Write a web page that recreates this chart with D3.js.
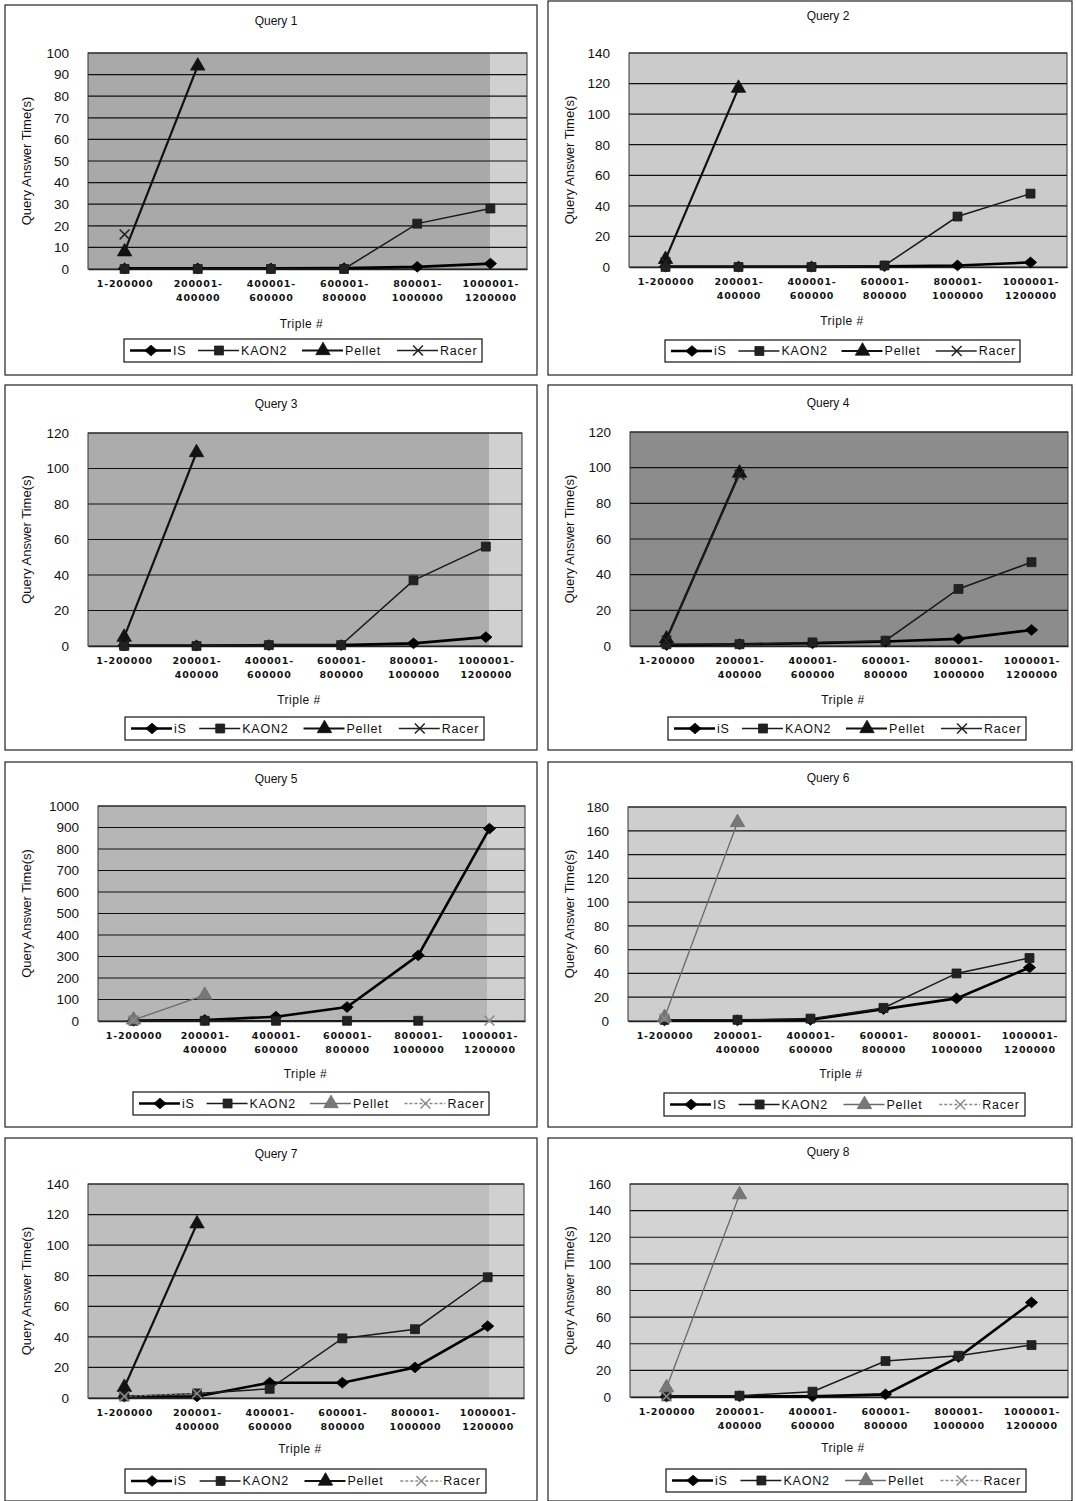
<!DOCTYPE html>
<html><head><meta charset="utf-8">
<script src="https://cdn.jsdelivr.net/npm/d3@7"></script>
<style>
body{margin:0;background:#fff}
svg{display:block}
text{font-family:"Liberation Sans",Arial,sans-serif;fill:#111}
</style>
</head><body>
<svg id="c" width="1076" height="1501"></svg>
<script>
// ---------- DATA ----------
const categories = ["1-200000","200001-400000","400001-600000","600001-800000","800001-1000000","1000001-1200000"];
const categoryLines = [["1-200000"],["200001-","400000"],["400001-","600000"],["600001-","800000"],["800001-","1000000"],["1000001-","1200000"]];
const queryTitles = ["Query 1","Query 2","Query 3","Query 4","Query 5","Query 6","Query 7","Query 8"];
const yMax  = [100,140,120,120,1000,180,140,160];
const yStep = [10,20,20,20,100,20,20,20];
const seriesNames = ["iS","KAON2","Pellet","Racer"];
const isLegendLabels = ["IS","iS","iS","iS","iS","IS","iS","iS"];
const yTitle = "Query Answer Time(s)";
const xTitle = "Triple #";

const iSValues = [
  [0.3,0.3,0.3,0.4,1,2.5],
  [0.3,0.3,0.3,0.5,1,3],
  [0.3,0.3,0.5,0.5,1.5,5],
  [0.5,1,1.5,2.5,4,9],
  [2,5,20,65,305,895],
  [0.5,0.5,1,10,19,45],
  [1,1,10,10,20,47],
  [0.5,0.5,0.5,2,30,71]
];
const kaon2Values = [
  [0,0,0,0,21,28],
  [0,0,0,1,33,48],
  [0,0,0.5,0.5,37,56],
  [1,1,2,3,32,47],
  [1,1,1,1,1,null],
  [1,1,2,11,40,53],
  [1,3,6,39,45,79],
  [0.5,1,4,27,31,39]
];
const pelletValues = [
  [8,94,null,null,null,null],
  [5,117,null,null,null,null],
  [5,109,null,null,null,null],
  [4,97,null,null,null,null],
  [5,120,null,null,null,null],
  [3,167,null,null,null,null],
  [7,114,null,null,null,null],
  [7,152,null,null,null,null]
];
const racerValues = [
  [16,null,null,null,null,null],
  [3,null,null,null,null,null],
  [1,null,null,null,null,null],
  [3,96,null,null,null,null],
  [3,null,null,null,null,2],
  [2,null,null,null,null,null],
  [1,3,null,null,null,null],
  [0.5,null,null,null,null,null]
];

// ---------- LAYOUT (presentation only) ----------
const layout = [
  {box:[5,5,537,375],   plot:[88,53,527,269],   tY:22,   xtY:325,  leg:[124,339,482,362],  bg:"#a9a9a9", fade:490},
  {box:[548,1,1072,375],plot:[629,53,1067,267], tY:17,   xtY:322,  leg:[665,340,1020,362], bg:"#cbcbcb", fade:null},
  {box:[5,385,537,750], plot:[88,433,522,646],  tY:405,  xtY:701,  leg:[125,717,484,740],  bg:"#acacac", fade:489},
  {box:[548,385,1072,750],plot:[630,432,1068,646],tY:404,xtY:701,  leg:[668,717,1026,740], bg:"#8c8c8c", fade:null},
  {box:[5,762,537,1127],plot:[98,806,525,1021], tY:780,  xtY:1075, leg:[133,1092,489,1115],bg:"#b6b6b6", fade:487},
  {box:[548,762,1072,1127],plot:[628,807,1066,1021],tY:779,xtY:1075,leg:[664,1093,1025,1116],bg:"#cecece", fade:null},
  {box:[5,1138,537,1501],plot:[88,1184,524,1398],tY:1155,xtY:1450, leg:[125,1469,486,1493],bg:"#bebebe", fade:489},
  {box:[548,1138,1072,1501],plot:[630,1184,1068,1397],tY:1153,xtY:1449,leg:[666,1469,1026,1492],bg:"#d3d3d3", fade:null}
];
const lightPellet = [false,false,false,false,true,true,false,true];
const lightRacer  = [false,false,false,false,true,true,true,true];

const svg = d3.select("#c");
const allValues = [iSValues, kaon2Values, pelletValues, racerValues];
const rhombus = {draw(ctx,size){const r=Math.sqrt(size)/2;ctx.moveTo(0,-r);ctx.lineTo(r*1.15,0);ctx.lineTo(0,r);ctx.lineTo(-r*1.15,0);ctx.closePath();}};
const symbols = [rhombus, d3.symbolSquare, d3.symbolTriangle, d3.symbolX];
const symSizes = [115, 80, 90, 65];

function styleFor(s, i){
  if(s===0) return {stroke:"#000", w:2.6, fill:"#000", dash:null};
  if(s===1) return {stroke:"#1a1a1a", w:1.5, fill:"#222", dash:null};
  if(s===2) return lightPellet[i] ? {stroke:"#6a6a6a", w:1.3, fill:"#777", dash:null}
                                  : {stroke:"#111", w:2.2, fill:"#111", dash:null};
  return lightRacer[i] ? {stroke:"#8a8a8a", w:1, fill:"none", dash:"3,2"}
                       : {stroke:"#222", w:1.2, fill:"none", dash:null};
}

queryTitles.forEach((title, i) => {
  const L = layout[i];
  const [bx0,by0,bx1,by1] = L.box;
  const [px0,py0,px1,py1] = L.plot;
  const g = svg.append("g");

  g.append("rect").attr("x",bx0).attr("y",by0).attr("width",bx1-bx0).attr("height",by1-by0)
    .attr("fill","#fff").attr("stroke","#222").attr("stroke-width",1.2);

  const x = d3.scalePoint().domain(categories).range([px0,px1]).padding(0.5);
  const y = d3.scaleLinear().domain([0,yMax[i]]).range([py1,py0]);

  // plot background
  g.append("rect").attr("x",px0).attr("y",py0).attr("width",px1-px0).attr("height",py1-py0)
    .attr("fill",L.bg);
  if(L.fade){
    g.append("rect").attr("x",L.fade).attr("y",py0).attr("width",px1-L.fade).attr("height",py1-py0)
      .attr("fill","#d0d0d0");
  }

  const ticks = d3.range(0, yMax[i] + yStep[i]/2, yStep[i]);
  g.append("g").selectAll("line").data(ticks.slice(1)).join("line")
    .attr("x1",px0).attr("x2",px1).attr("y1",d=>y(d)).attr("y2",d=>y(d))
    .attr("stroke","#111").attr("stroke-width",1.2);
  g.append("rect").attr("x",px0).attr("y",py0).attr("width",px1-px0).attr("height",py1-py0)
    .attr("fill","none").attr("stroke","#333").attr("stroke-width",1);

  // y axis
  const ya = g.append("g").attr("transform",`translate(${px0},0)`)
    .call(d3.axisLeft(y).tickValues(ticks).tickSize(0).tickPadding(19).tickFormat(d3.format("d")));
  ya.select(".domain").remove();
  ya.selectAll("text").style("font-size","13.5px").style("font-family","'Liberation Sans',Arial,sans-serif").attr("fill","#111");

  // x axis
  const xa = g.append("g").attr("transform",`translate(0,${py1})`)
    .call(d3.axisBottom(x).tickSize(0).tickPadding(11));
  xa.select(".domain").attr("stroke","#222").attr("stroke-width",1.4);
  xa.selectAll("text").each(function(d){
    const t = d3.select(this); t.text(null);
    const lines = categoryLines[categories.indexOf(d)];
    lines.forEach((ln,k)=>{
      t.append("tspan").attr("x",0).attr("dy", k===0 ? "0.71em" : "1.5em").text(ln);
    });
  }).style("font-size","9.5px").style("font-weight","bold").style("letter-spacing","0.8px")
    .style("font-family","'DejaVu Sans',Arial,sans-serif").attr("fill","#222");

  // title
  g.append("text").attr("x",(bx0+bx1)/2 + (i%2===0? 5: 18)).attr("y",L.tY).attr("text-anchor","middle")
    .attr("dominant-baseline","middle").style("font-size","12px").text(title);
  // axis titles
  g.append("text").attr("transform",`translate(${bx0+23},${(py0+py1)/2}) rotate(-90)`)
    .attr("text-anchor","middle").attr("dominant-baseline","middle").style("font-size","13px").text(yTitle);
  g.append("text").attr("x",(px0+px1)/2 - 6).attr("y",L.xtY).attr("text-anchor","middle")
    .attr("dominant-baseline","middle").style("font-size","12px").style("letter-spacing","0.5px").text(xTitle);

  // series
  const line = d3.line().defined(d=>d.v!=null).x(d=>x(d.c)).y(d=>y(d.v));
  allValues.forEach((vals, s) => {
    const st = styleFor(s,i);
    const pts = vals[i].map((v,k)=>({c:categories[k], v}));
    g.append("path").datum(pts).attr("d",line).attr("fill","none")
      .attr("stroke",st.stroke).attr("stroke-width",st.w).attr("stroke-dasharray",st.dash);
    g.append("g").selectAll("path").data(pts.filter(d=>d.v!=null)).join("path")
      .attr("transform",d=>`translate(${x(d.c)},${y(d.v)})`)
      .attr("d", d3.symbol(symbols[s], symSizes[s]))
      .attr("fill", st.fill).attr("stroke", st.stroke).attr("stroke-width", s===3 ? 1.5 : 0.8);
  });

  // legend
  const [lx0,ly0,lx1,ly1] = L.leg;
  g.append("rect").attr("x",lx0).attr("y",ly0).attr("width",lx1-lx0).attr("height",ly1-ly0)
    .attr("fill","#fff").attr("stroke","#111").attr("stroke-width",1.2);
  const ly = (ly0+ly1)/2;
  const offs = [6, 74, 178, 273];
  const k = (lx1-lx0)/358;
  seriesNames.forEach((nm, s) => {
    const st = styleFor(s,i);
    const sx = lx0 + offs[s]*k;
    g.append("line").attr("x1",sx).attr("x2",sx+41).attr("y1",ly).attr("y2",ly)
      .attr("stroke",st.stroke).attr("stroke-width",Math.max(st.w,1.4)).attr("stroke-dasharray",st.dash);
    g.append("path").attr("transform",`translate(${sx+21},${ly})`).attr("d",d3.symbol(symbols[s],symSizes[s]))
      .attr("fill",st.fill).attr("stroke",st.stroke).attr("stroke-width", s===3?1.5:0.8);
    g.append("text").attr("x",sx+43).attr("y",ly+1).attr("dominant-baseline","middle")
      .style("font-size","12.5px").style("letter-spacing","0.8px").text(s===0 ? isLegendLabels[i] : nm);
  });
});
</script>
</body></html>
